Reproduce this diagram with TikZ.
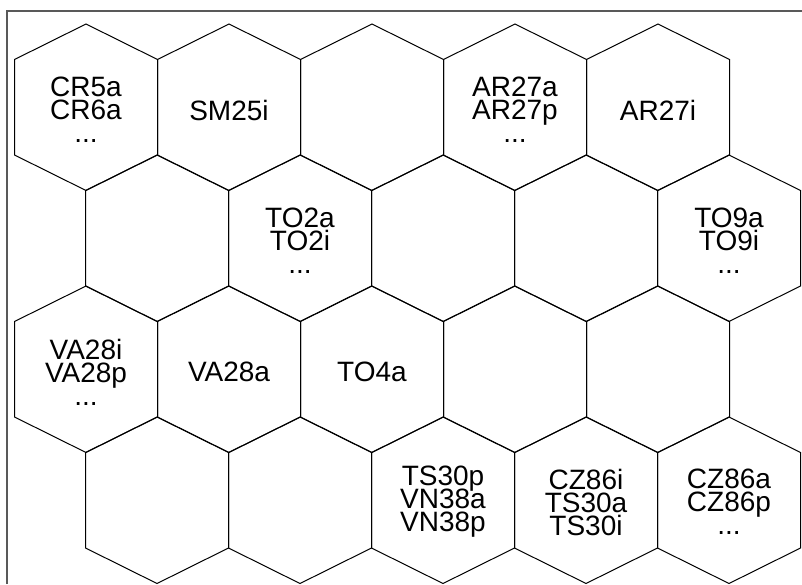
\documentclass[tikz,border=0pt]{standalone}
\usepackage{fontspec}
\setmainfont{Liberation Sans}
\setlength{\lineskiplimit}{-100pt}
\tikzset{
  hexline/.style={line width=1pt, black},
  hexcell/.pic={\draw[hexline] (0,-83.25) -- (71.5,-47.75) -- (71.5,47.75) -- (0,83.25) -- (-71.5,47.75) -- (-71.5,-47.75) -- cycle;},
  lbl/.style={align=center, inner sep=0pt, text=black,
    font=\fontsize{28}{23}\selectfont},
  frameline/.style={line width=1.2pt, black!65},
}
\begin{document}
\begin{tikzpicture}[x=1pt,y=-1pt]
\useasboundingbox (0,0) rectangle (802,584);
\fill[white] (0,0) rectangle (802,584);
% frame
\coordinate (ftl) at (7,11);
\coordinate (ftr) at (802,11);
\coordinate (fbl) at (7,584);
\draw[frameline] (fbl) -- (ftl) -- (ftr);
% row 1
\foreach \x in {86,229,372,515,658} {\pic at (\x,107.25) {hexcell};}
% row 2
\foreach \x in {157,300,443,586,729} {\pic at (\x,238.25) {hexcell};}
% row 3
\foreach \x in {86,229,372,515,658} {\pic at (\x,369.25) {hexcell};}
% row 4
\foreach \x in {157,300,443,586,729} {\pic at (\x,500.25) {hexcell};}
% labels
\node[lbl] (c11) at (86,110) {CR5a\\CR6a\\...};
\node[lbl] (c12) at (229,110) {SM25i};
\node[lbl] (c14) at (515,110) {AR27a\\AR27p\\...};
\node[lbl] (c15) at (658,110) {AR27i};
\node[lbl] (c22) at (300,241) {TO2a\\TO2i\\...};
\node[lbl] (c25) at (729,241) {TO9a\\TO9i\\...};
\node[lbl] (c31) at (86,372) {VA28i\\VA28p\\...};
\node[lbl] (c32) at (229,372) {VA28a};
\node[lbl] (c33) at (372,372) {TO4a};
\node[lbl] (c43) at (443,502) {TS30p\\VN38a\\VN38p};
\node[lbl] (c44) at (586,502) {CZ86i\\TS30a\\TS30i};
\node[lbl] (c45) at (729,502) {CZ86a\\CZ86p\\...};
\end{tikzpicture}
\end{document}
